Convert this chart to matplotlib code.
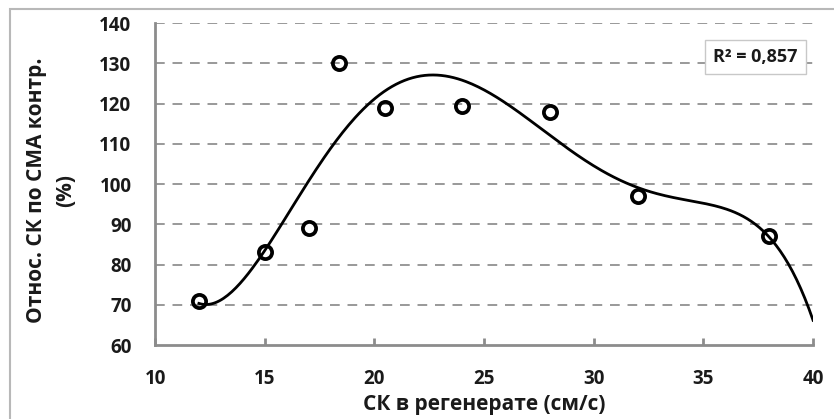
import numpy as np
import matplotlib
matplotlib.use('Agg')
import matplotlib.pyplot as plt
from matplotlib.patches import Rectangle

plt.rcParams['font.family'] = ['Open Sans', 'DejaVu Sans']

# данные
x_vals = [12, 15, 17, 18.4, 20.5, 24, 28, 32, 38]
y_vals = [71, 83, 89, 130, 119, 119.3, 118, 97, 87]
x_ticks = [10, 15, 20, 25, 30, 35, 40]
y_ticks = [60, 70, 80, 90, 100, 110, 120, 130, 140]
r2_label = 'R² = 0,857'

fig = plt.figure(figsize=(8.34, 4.19), dpi=100)
# серая рамка (видны только левый и верхний края)
fig.patches.append(Rectangle((10 / 834, -0.05), 1.0, 0.05 + 410 / 419, transform=fig.transFigure,
                             fill=False, edgecolor='#b8b8b8', lw=1.5))

ax = fig.add_axes([0.1859, 0.1766, 0.789, 0.7685])

# полиномиальный тренд 5-й степени
p = np.polyfit(x_vals, y_vals, 5)
xs = np.linspace(12, 40, 300)
ax.plot(xs, np.polyval(p, xs), color='black', lw=2.0, zorder=3)
ax.plot(x_vals, y_vals, 'o', mfc='none', mec='black', ms=9.5, mew=2.7, zorder=4)

ax.set_xlim(10, 40)
ax.set_ylim(60, 140)
ax.set_xticks(x_ticks)
ax.set_yticks(y_ticks)
for yv in y_ticks[1:]:
    ax.axhline(yv, color='#999999', lw=1.4, ls=(0, (5, 4)), zorder=1)

for s in ['top', 'right']:
    ax.spines[s].set_visible(False)
for s in ['left', 'bottom']:
    ax.spines[s].set_color('#8c8c8c')
    ax.spines[s].set_linewidth(2)
ax.tick_params(axis='x', direction='in', length=5, width=2, color='#8c8c8c', pad=17)
ax.tick_params(axis='y', length=0, pad=17)
for lab in ax.get_xticklabels() + ax.get_yticklabels():
    lab.set_fontsize(13.5)
    lab.set_fontweight('bold')
    lab.set_color('#1a1a1a')

ax.set_xlabel('СК в регенерате (см/с)', fontsize=15, fontweight='bold', color='#1a1a1a')
ax.set_ylabel('Относ. СК по СМА контр.\n(%)', fontsize=15, fontweight='bold', color='#1a1a1a',
              linespacing=1.45)
ax.xaxis.set_label_coords(0.5, -0.186)
ax.xaxis.label.set_va('center')
ax.yaxis.set_label_coords(-0.158, 0.48)
ax.yaxis.label.set_va('center')

ax.text(0.977, 0.895, r2_label, transform=ax.transAxes, ha='right', va='center',
        fontsize=13, fontweight='bold', color='#1a1a1a',
        bbox=dict(boxstyle='square,pad=0.45', fc='white', ec='#c8c8c8', lw=1))

fig.savefig('out.png')
